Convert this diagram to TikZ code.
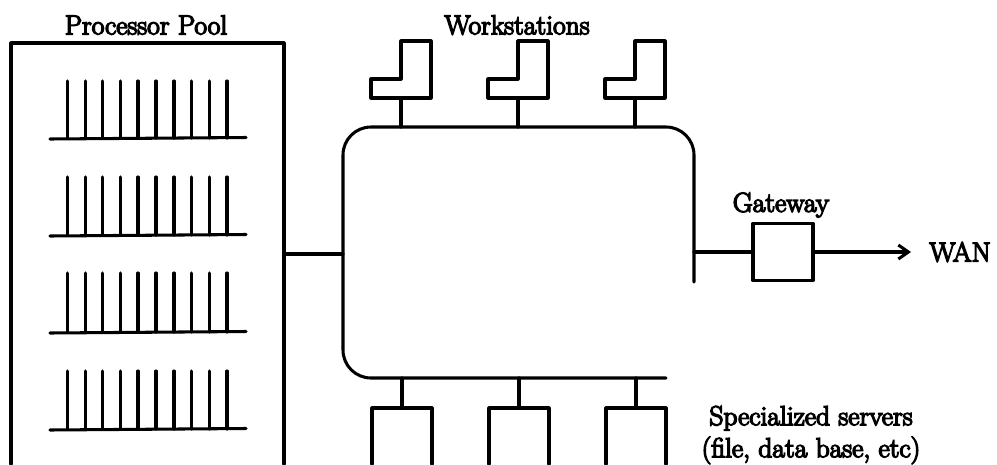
\documentclass[tikz,border=0pt]{standalone}
\usepackage{fontspec}
\newfontfamily\lblfont{Latin Modern Roman}[FakeBold=5]
\usetikzlibrary{arrows.meta}
\tikzset{
  ln/.style={line width=3.05pt,line join=round,line cap=round,black},
  lbl/.style={inner sep=0pt,align=center,font=\lblfont\fontsize{27.5}{32}\selectfont},
  ws/.pic={\draw[ln] (0,0)--(-30,0)--(-30,-19)--(0,-19)--(0,-57)--(30,-57)--(30,0)--cycle;}
}
\begin{document}
\begin{tikzpicture}[x=1pt,y=-1pt]
\useasboundingbox (0,0) rectangle (997,464);
\node[lbl] (pp) at (146,25) {Processor Pool};
\node[lbl] (wl) at (517,25) {Workstations};
\node[lbl] (gl) at (781,205) {Gateway};
\node[lbl] (wan) at (960,252) {WAN};
\node[lbl] (sl) at (811,435) {Specialized servers\\(file, data base, etc)};
% pool
\draw[ln] (11,464)--(11,43)--(284,43)--(284,464);
\foreach \yt/\yb in {81/138,177/235,273/332,371/429}{
  \draw[ln] (50,\yb+1)--(246,\yb-0.5);
  \foreach \x in {67.7,85.2,102.7,120.3,138,156,174,191.7,209.3,227}
    \draw[ln] (\x,\yt)--(\x,\yb);
}
% LAN
\coordinate (lanL) at (343,254);
\coordinate (lanR) at (694,252);
\draw[ln] (694,282)--(694,155) arc[start angle=0,end angle=-90,radius=28]
  --(371,127) arc[start angle=-90,end angle=-180,radius=28]
  --(343,350) arc[start angle=180,end angle=90,radius=28]--(666,378);
\draw[ln] (284,254)--(lanL);
% workstations
\foreach \x/\n in {401/a,518/b,635/c}{
  \pic at (\x,98) {ws};
  \coordinate (w\n) at (\x,98);
  \draw[ln] (w\n)--(\x,127);
}
% servers
\foreach \x/\n in {402/a,519/b,636/c}{
  \draw[ln] (\x-30,464)--(\x-30,408)--(\x+30,408)--(\x+30,464);
  \coordinate (s\n) at (\x,408);
  \draw[ln] (\x,378)--(s\n);
}
% gateway
\node[draw,ln,minimum width=60pt,minimum height=57pt,inner sep=0pt,outer sep=0pt] (gw) at (783,252) {};
\draw[ln] (lanR)--(gw.west);
\coordinate (we) at (911,252);
\draw[ln,-{Straight Barb[length=10pt,width=14pt]}] (gw.east)--(we);
\end{tikzpicture}
\end{document}
